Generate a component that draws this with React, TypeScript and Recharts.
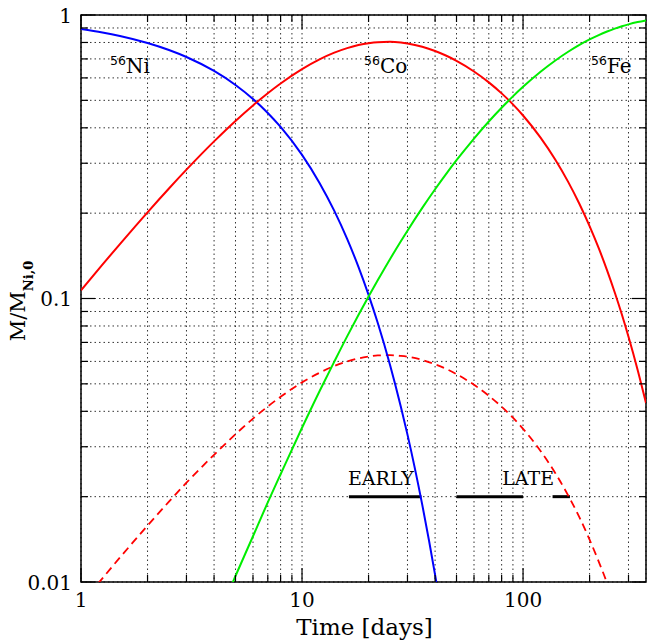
import React from 'react'
import { LineChart, Line, XAxis, YAxis, CartesianGrid, ReferenceLine, ReferenceArea } from 'recharts'

// time in days
const days = [1, 1.25, 1.5, 2, 2.5, 3, 4, 5, 6, 7, 8, 10, 12, 14, 16, 18, 20, 22, 25, 28, 30, 35, 40, 45, 50, 60, 70, 80, 90, 100, 120, 140, 160, 180, 200, 220, 240, 260, 280, 300, 330, 360]

const ni56 = [0.8926, 0.8676, 0.8433, 0.7967, 0.7527, 0.7111, 0.6348, 0.5666, 0.5057, 0.4514, 0.4029, 0.321, 0.2557, 0.2037, 0.1623, 0.1293, 0.103, 0.0821, 0.0584, 0.0415, 0.0331, 0.0187, 0.0106, 0.006, 0.0034]

const co56 = [0.1069, 0.1317, 0.1556, 0.2014, 0.2444, 0.2848, 0.3583, 0.423, 0.4798, 0.5296, 0.5731, 0.644, 0.6972, 0.7363, 0.7642, 0.7833, 0.7954, 0.802, 0.804, 0.7993, 0.7934, 0.7726, 0.7465, 0.7182, 0.6892, 0.6322, 0.5786, 0.5291, 0.4837, 0.4421, 0.3694, 0.3087, 0.2579, 0.2155, 0.1801, 0.1505, 0.1257, 0.105, 0.0878, 0.0733, 0.056, 0.0428]

const fe56 = [0.0005, 0.0008, 0.0011, 0.0019, 0.0029, 0.0041, 0.007, 0.0105, 0.0145, 0.0191, 0.024, 0.035, 0.0471, 0.0599, 0.0735, 0.0874, 0.1016, 0.1159, 0.1376, 0.1592, 0.1735, 0.2087, 0.2429, 0.2758, 0.3074, 0.3667, 0.4211, 0.4708, 0.5163, 0.5579, 0.6306, 0.6913, 0.7421, 0.7845, 0.8199, 0.8496, 0.8743, 0.895, 0.9123, 0.9267, 0.944, 0.9573]

const coDashed = [0.0084, 0.0103, 0.0122, 0.0158, 0.0192, 0.0224, 0.0281, 0.0332, 0.0377, 0.0416, 0.045, 0.0506, 0.0547, 0.0578, 0.06, 0.0615, 0.0624, 0.063, 0.0631, 0.0627, 0.0623, 0.0607, 0.0586, 0.0564, 0.0541, 0.0496, 0.0454, 0.0415, 0.038, 0.0347, 0.029, 0.0242, 0.0202, 0.0169, 0.0141, 0.0118, 0.0099, 0.0082, 0.0069, 0.0058, 0.0044, 0.0034]

const xTicks = [1, 2, 3, 4, 5, 6, 7, 8, 9, 10, 20, 30, 40, 50, 60, 70, 80, 90, 100, 200, 300]
const yTicks = [0.01, 0.02, 0.03, 0.04, 0.05, 0.06, 0.07, 0.08, 0.09, 0.1, 0.2, 0.3, 0.4, 0.5, 0.6, 0.7, 0.8, 0.9, 1]

// time windows [from, to] at M = 0.02
const earlyWindow = [16.3, 34.7]
const lateWindows = [[50, 100], [136, 163]]
const windowLevel = 0.02

const data = days.map((t, i) => ({
  t,
  ni: i < ni56.length ? ni56[i] : null,
  co: co56[i],
  fe: fe56[i],
  coD: coDashed[i],
}))

const PLOT = { left: 81, top: 15, right: 646, bottom: 582 }
const SERIF = '"DejaVu Serif", serif'
const SANS = '"DejaVu Sans", sans-serif'

const isMajor = (v: number) => Math.abs(Math.log10(v) - Math.round(Math.log10(v))) < 1e-6

function XTick(props: any) {
  const { x, payload } = props
  const major = isMajor(payload.value)
  const len = major ? 14 : 7
  return (
    <g>
      <line x1={x} x2={x} y1={PLOT.bottom} y2={PLOT.bottom - len} stroke="#000" strokeWidth={1.2} />
      <line x1={x} x2={x} y1={PLOT.top} y2={PLOT.top + len} stroke="#000" strokeWidth={1.2} />
      {major && (
        <text x={x} y={PLOT.bottom + 25} textAnchor="middle" fontFamily={SERIF} fontSize={20} fill="#000">
          {payload.value}
        </text>
      )}
    </g>
  )
}

function YTick(props: any) {
  const { y, payload } = props
  const major = isMajor(payload.value)
  const len = major ? 14 : 7
  return (
    <g>
      <line x1={PLOT.left} x2={PLOT.left + len} y1={y} y2={y} stroke="#000" strokeWidth={1.2} />
      <line x1={PLOT.right} x2={PLOT.right - len} y1={y} y2={y} stroke="#000" strokeWidth={1.2} />
      {major && (
        <text x={PLOT.left - 9} y={y + 7.5} textAnchor="end" fontFamily={SERIF} fontSize={20} fill="#000">
          {payload.value}
        </text>
      )}
    </g>
  )
}

function Isotope({ x, name }: { x: number; name: string }) {
  return (
    <g>
      <text x={x} y={65} fontFamily={SANS} fontSize={12.5} fill="#000">56</text>
      <text x={x + 16} y={73} fontFamily={SERIF} fontSize={20} fill="#000">{name}</text>
    </g>
  )
}

export default function App() {
  return (
    <div style={{ position: 'absolute', left: 0, top: 0, width: 647, height: 641, background: '#fff' }}>
      <LineChart width={647} height={641} data={data} margin={{ top: PLOT.top, right: 647 - PLOT.right, left: 0, bottom: 0 }}>
        <CartesianGrid stroke="#333" strokeDasharray="1.5 3" strokeWidth={1} />
        <XAxis
          dataKey="t"
          type="number"
          scale="log"
          domain={[1, 360]}
          allowDataOverflow
          ticks={xTicks}
          interval={0}
          height={641 - PLOT.bottom}
          axisLine={false}
          tickLine={false}
          tickSize={0}
          tickMargin={0}
          tick={<XTick />}
        />
        <YAxis
          type="number"
          scale="log"
          domain={[0.01, 1]}
          allowDataOverflow
          ticks={yTicks}
          interval={0}
          width={PLOT.left}
          axisLine={false}
          tickLine={false}
          tickSize={0}
          tickMargin={0}
          tick={<YTick />}
        />
        <ReferenceArea x1={1} x2={360} y1={0.01} y2={1} fill="none" stroke="#000" strokeWidth={1.5} />
        <ReferenceLine
          segment={[{ x: earlyWindow[0], y: windowLevel }, { x: earlyWindow[1], y: windowLevel }]}
          stroke="#000"
          strokeWidth={3}
        />
        {lateWindows.map((w, i) => (
          <ReferenceLine
            key={i}
            segment={[{ x: w[0], y: windowLevel }, { x: w[1], y: windowLevel }]}
            stroke="#000"
            strokeWidth={3}
          />
        ))}
        <Line dataKey="coD" type="monotone" stroke="#ff0000" strokeWidth={1.8} strokeDasharray="8 5" dot={false} isAnimationActive={false} />
        <Line dataKey="ni" type="monotone" stroke="#0000ff" strokeWidth={2} dot={false} isAnimationActive={false} />
        <Line dataKey="co" type="monotone" stroke="#ff0000" strokeWidth={2} dot={false} isAnimationActive={false} />
        <Line dataKey="fe" type="monotone" stroke="#00ee00" strokeWidth={2} dot={false} isAnimationActive={false} />
      </LineChart>
      <svg width={647} height={641} style={{ position: 'absolute', left: 0, top: 0, pointerEvents: 'none' }}>
        <Isotope x={110} name="Ni" />
        <Isotope x={364} name="Co" />
        <Isotope x={591} name="Fe" />
        <text x={348} y={485} fontFamily={SERIF} fontSize={19} fill="#000">EARLY</text>
        <text x={554} y={485} textAnchor="end" fontFamily={SERIF} fontSize={19} fill="#000">LATE</text>
        <text x={364.5} y={635} textAnchor="middle" fontFamily={SERIF} fontSize={23} fill="#000">Time [days]</text>
        <g transform="translate(25,301) rotate(-90)">
          <text textAnchor="middle" fontFamily={SERIF} fontSize={21} fill="#000">
            M/M
            <tspan dy={8} fontSize={13} fontWeight="bold">Ni,0</tspan>
          </text>
        </g>
      </svg>
    </div>
  )
}
